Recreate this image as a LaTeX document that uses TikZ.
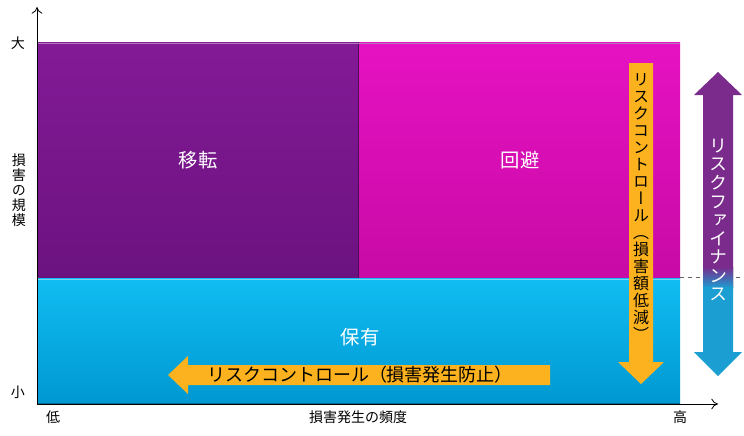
\documentclass[tikz,border=0pt]{standalone}
\usepackage{fontspec}
\setmainfont{Noto Sans CJK JP}
\newfontfamily\vjp[Vertical=Alternates]{Noto Sans CJK JP}
\usetikzlibrary{arrows.meta}
\definecolor{purT}{HTML}{831A96}
\definecolor{purB}{HTML}{6C1280}
\definecolor{magT}{HTML}{E612C2}
\definecolor{magB}{HTML}{C80AA6}
\definecolor{cyaT}{HTML}{10BDF2}
\definecolor{cyaB}{HTML}{0098D2}
\definecolor{orng}{HTML}{FBB21E}
\definecolor{finP}{HTML}{7A2B8C}
\definecolor{finC}{HTML}{1B9ED2}
\tikzset{
  axis/.style={line width=0.6pt, -{To[length=5pt,width=8pt]}},
  ticklbl/.style={font=\fontsize{10.5pt}{12pt}\selectfont, inner sep=0pt},
  arealbl/.style={font=\fontsize{14.5pt}{17pt}\selectfont, text=white, inner sep=0pt},
  vtext/.style={align=center, inner sep=0pt},
}
\newcommand\vsetup[2]{\vjp\fontsize{#1}{#2}\selectfont\lineskiplimit=-20pt\lineskip=0pt}
\begin{document}
\begin{tikzpicture}[x=0.75pt,y=-0.75pt]
\useasboundingbox (0,0) rectangle (744,436);
% areas
\fill[top color=purT,bottom color=purB] (37,42) rectangle (358,278);
\fill[top color=magT,bottom color=magB] (358,42) rectangle (680,278);
\fill[top color=cyaT,bottom color=cyaB] (37,278) rectangle (680,403);
\draw[purB!70!black,line width=0.5pt] (358,42) -- (358,278);
\draw[cyaB!70!black,line width=0.6pt] (37,403) -- (680,403);
\draw[cyaT!60!white,line width=0.6pt] (37,279) -- (680,279);
\draw[purT!60!white,line width=0.6pt] (37,43) -- (680,43);
% axes
\coordinate (O) at (37,404);
\coordinate (Ytip) at (37,7);
\coordinate (Xtip) at (718,404);
\draw[axis] (O) -- (Ytip);
\draw[axis] (O) -- (Xtip);
% dashed
\coordinate (d1) at (680,277);
\coordinate (d2) at (744,277);
\draw[gray!80!black,dashed,line width=0.6pt] (d1) -- (d2);
% area labels
\node[arealbl] (iten) at (198,160) {移転};
\node[arealbl] (kaihi) at (520,160) {回避};
\node[arealbl] (hoyu) at (360,337) {保有};
% axis labels
\node[ticklbl] (dai) at (18,43) {大};
\node[ticklbl] (sho) at (18,392) {小};
\node[ticklbl] (tei) at (53,417) {低};
\node[ticklbl] (ko) at (680,417) {高};
\node[ticklbl] (xl) at (358,417) {損害発生の頻度};
\node[vtext,font=\vsetup{10.5pt}{11.25pt}] (yl) at (19,190) {損\\害\\の\\規\\模};
% orange down arrow
\fill[orng] (629,63) -- (653,63) -- (653,362) -- (664,362) -- (641,384) -- (618,362) -- (629,362) -- cycle;
\node[vtext,font=\vsetup{12pt}{12.75pt}] (rc1) at (641,207) {リ\\ス\\ク\\コ\\ン\\ト\\ロ\\ー\\ル\\（\\損\\害\\額\\低\\減\\）};
% orange left arrow
\fill[orng] (550,365) -- (188,365) -- (188,356) -- (168,375) -- (188,394) -- (188,385) -- (550,385) -- cycle;
\node[font=\fontsize{13.5pt}{16pt}\selectfont, inner sep=0pt] (rc2) at (360,375) {リスクコントロール（損害発生防止）};
% double arrow
\begin{scope}
\clip (718,72) -- (742,95) -- (733,95) -- (733,352) -- (742,352) -- (718,376) -- (694,352) -- (703,352) -- (703,95) -- (694,95) -- cycle;
\fill[finP] (690,60) rectangle (746,268);
\fill[top color=finP,bottom color=finC] (690,267) rectangle (746,288);
\fill[finC] (690,287) rectangle (746,390);
\end{scope}
\node[vtext,font=\vsetup{13.5pt}{13.9pt},text=white] (rf) at (718,220) {リ\\ス\\ク\\フ\\ァ\\イ\\ナ\\ン\\ス};
\end{tikzpicture}
\end{document}
